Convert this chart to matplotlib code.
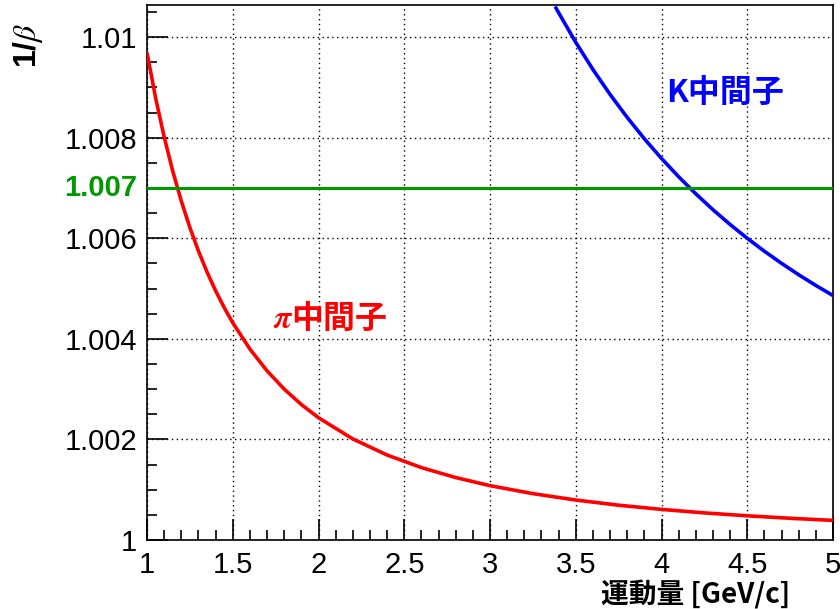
import matplotlib
matplotlib.use("Agg")
import matplotlib.pyplot as plt
from matplotlib.ticker import MultipleLocator, FixedLocator

# Data
pion_p = [1.0, 1.05, 1.1, 1.15, 1.2, 1.25, 1.3, 1.35, 1.4, 1.45, 1.5, 1.6, 1.7, 1.8, 1.9,
          2.0, 2.2, 2.4, 2.6, 2.8, 3.0, 3.25, 3.5, 3.75, 4.0, 4.25, 4.5, 4.75, 5.0]
pion_inv_beta = [1.009694, 1.008796, 1.008017, 1.007338, 1.006741, 1.006214, 1.005747,
                 1.005330, 1.004957, 1.004622, 1.004320, 1.003797, 1.003364, 1.003001,
                 1.002694, 1.002432, 1.002010, 1.001690, 1.001440, 1.001242, 1.001081,
                 1.000922, 1.000795, 1.000692, 1.000609, 1.000539, 1.000481, 1.000432,
                 1.000390]
kaon_p = [3.38, 3.4, 3.5, 3.6, 3.7, 3.8, 3.9, 4.0, 4.1, 4.2, 4.3, 4.4, 4.5, 4.6, 4.7,
          4.8, 4.9, 5.0]
kaon_inv_beta = [1.010610, 1.010487, 1.009898, 1.009358, 1.008862, 1.008404, 1.007980,
                 1.007588, 1.007224, 1.006885, 1.006569, 1.006275, 1.006000, 1.005743,
                 1.005502, 1.005275, 1.005062, 1.004862]
threshold = 1.007
x_range = [1.0, 5.0]
y_range = [1.0, 1.01064]
y_major = [1.0, 1.002, 1.004, 1.006, 1.008, 1.01]
y_major_labels = ["1", "1.002", "1.004", "1.006", "1.008", "1.01"]
x_major = [1, 1.5, 2, 2.5, 3, 3.5, 4, 4.5, 5]
x_major_labels = ["1", "1.5", "2", "2.5", "3", "3.5", "4", "4.5", "5"]

plt.rcParams['font.family'] = ['Liberation Sans', 'DejaVu Sans']
plt.rcParams['mathtext.fontset'] = 'stix'

fig = plt.figure(figsize=(8.4, 6.09), dpi=100)
ax = fig.add_axes([147/840, 1 - 540/609, (833-147)/840, (540-5)/609])

ax.plot(pion_p, pion_inv_beta, color='#ff0000', lw=2.6, solid_capstyle='butt', zorder=3)
ax.plot(kaon_p, kaon_inv_beta, color='#0000ff', lw=2.6, solid_capstyle='butt', zorder=3)
ax.plot(x_range, [threshold, threshold], color='#009900', lw=2.2, zorder=3)

ax.set_xlim(*x_range)
ax.set_ylim(*y_range)

ax.xaxis.set_major_locator(FixedLocator(x_major))
ax.set_xticklabels(x_major_labels)
ax.xaxis.set_minor_locator(MultipleLocator(0.1))
ax.yaxis.set_major_locator(FixedLocator(y_major))
ax.set_yticklabels(y_major_labels)
ax.yaxis.set_minor_locator(MultipleLocator(0.0005))

ax.tick_params(axis='both', which='major', direction='in', length=15, width=1.2,
               labelsize=21, top=False, right=False, pad=7)
ax.tick_params(axis='both', which='minor', direction='in', length=7.5, width=1.2,
               top=False, right=False)
ax.tick_params(axis='x', which='major', pad=8)
ax.grid(True, which='major', linestyle=(0, (1, 2.5)), color='black', lw=1.0)
for s in ax.spines.values():
    s.set_linewidth(1.2)

cjk = ['Noto Sans CJK JP', 'DejaVu Sans']
fig.text(28/840, 1 - 45/609, "1/$\\beta$", rotation=90, ha='center', va='center',
         fontsize=23, fontweight='bold')
fig.text(790/840, 1 - 594/609, "運動量 [GeV/c]", ha='right', va='center',
         fontsize=20, fontweight='bold', family=cjk)
ax.text(-0.014, threshold, "1.007", transform=ax.get_yaxis_transform(), ha='right',
        va='center', fontsize=21, fontweight='bold', color='#009900')
ax.text(4.37, 1.00887, "K中間子", ha='center', va='center', fontsize=23,
        fontweight='bold', color='#0000ff', family=cjk)
ax.text(2.067, 1.00441, "$\\mathbfit{\\pi}$中間子", ha='center', va='center', fontsize=23,
        fontweight='bold', color='#ff0000', family=cjk)

fig.savefig("out.png", dpi=100)
